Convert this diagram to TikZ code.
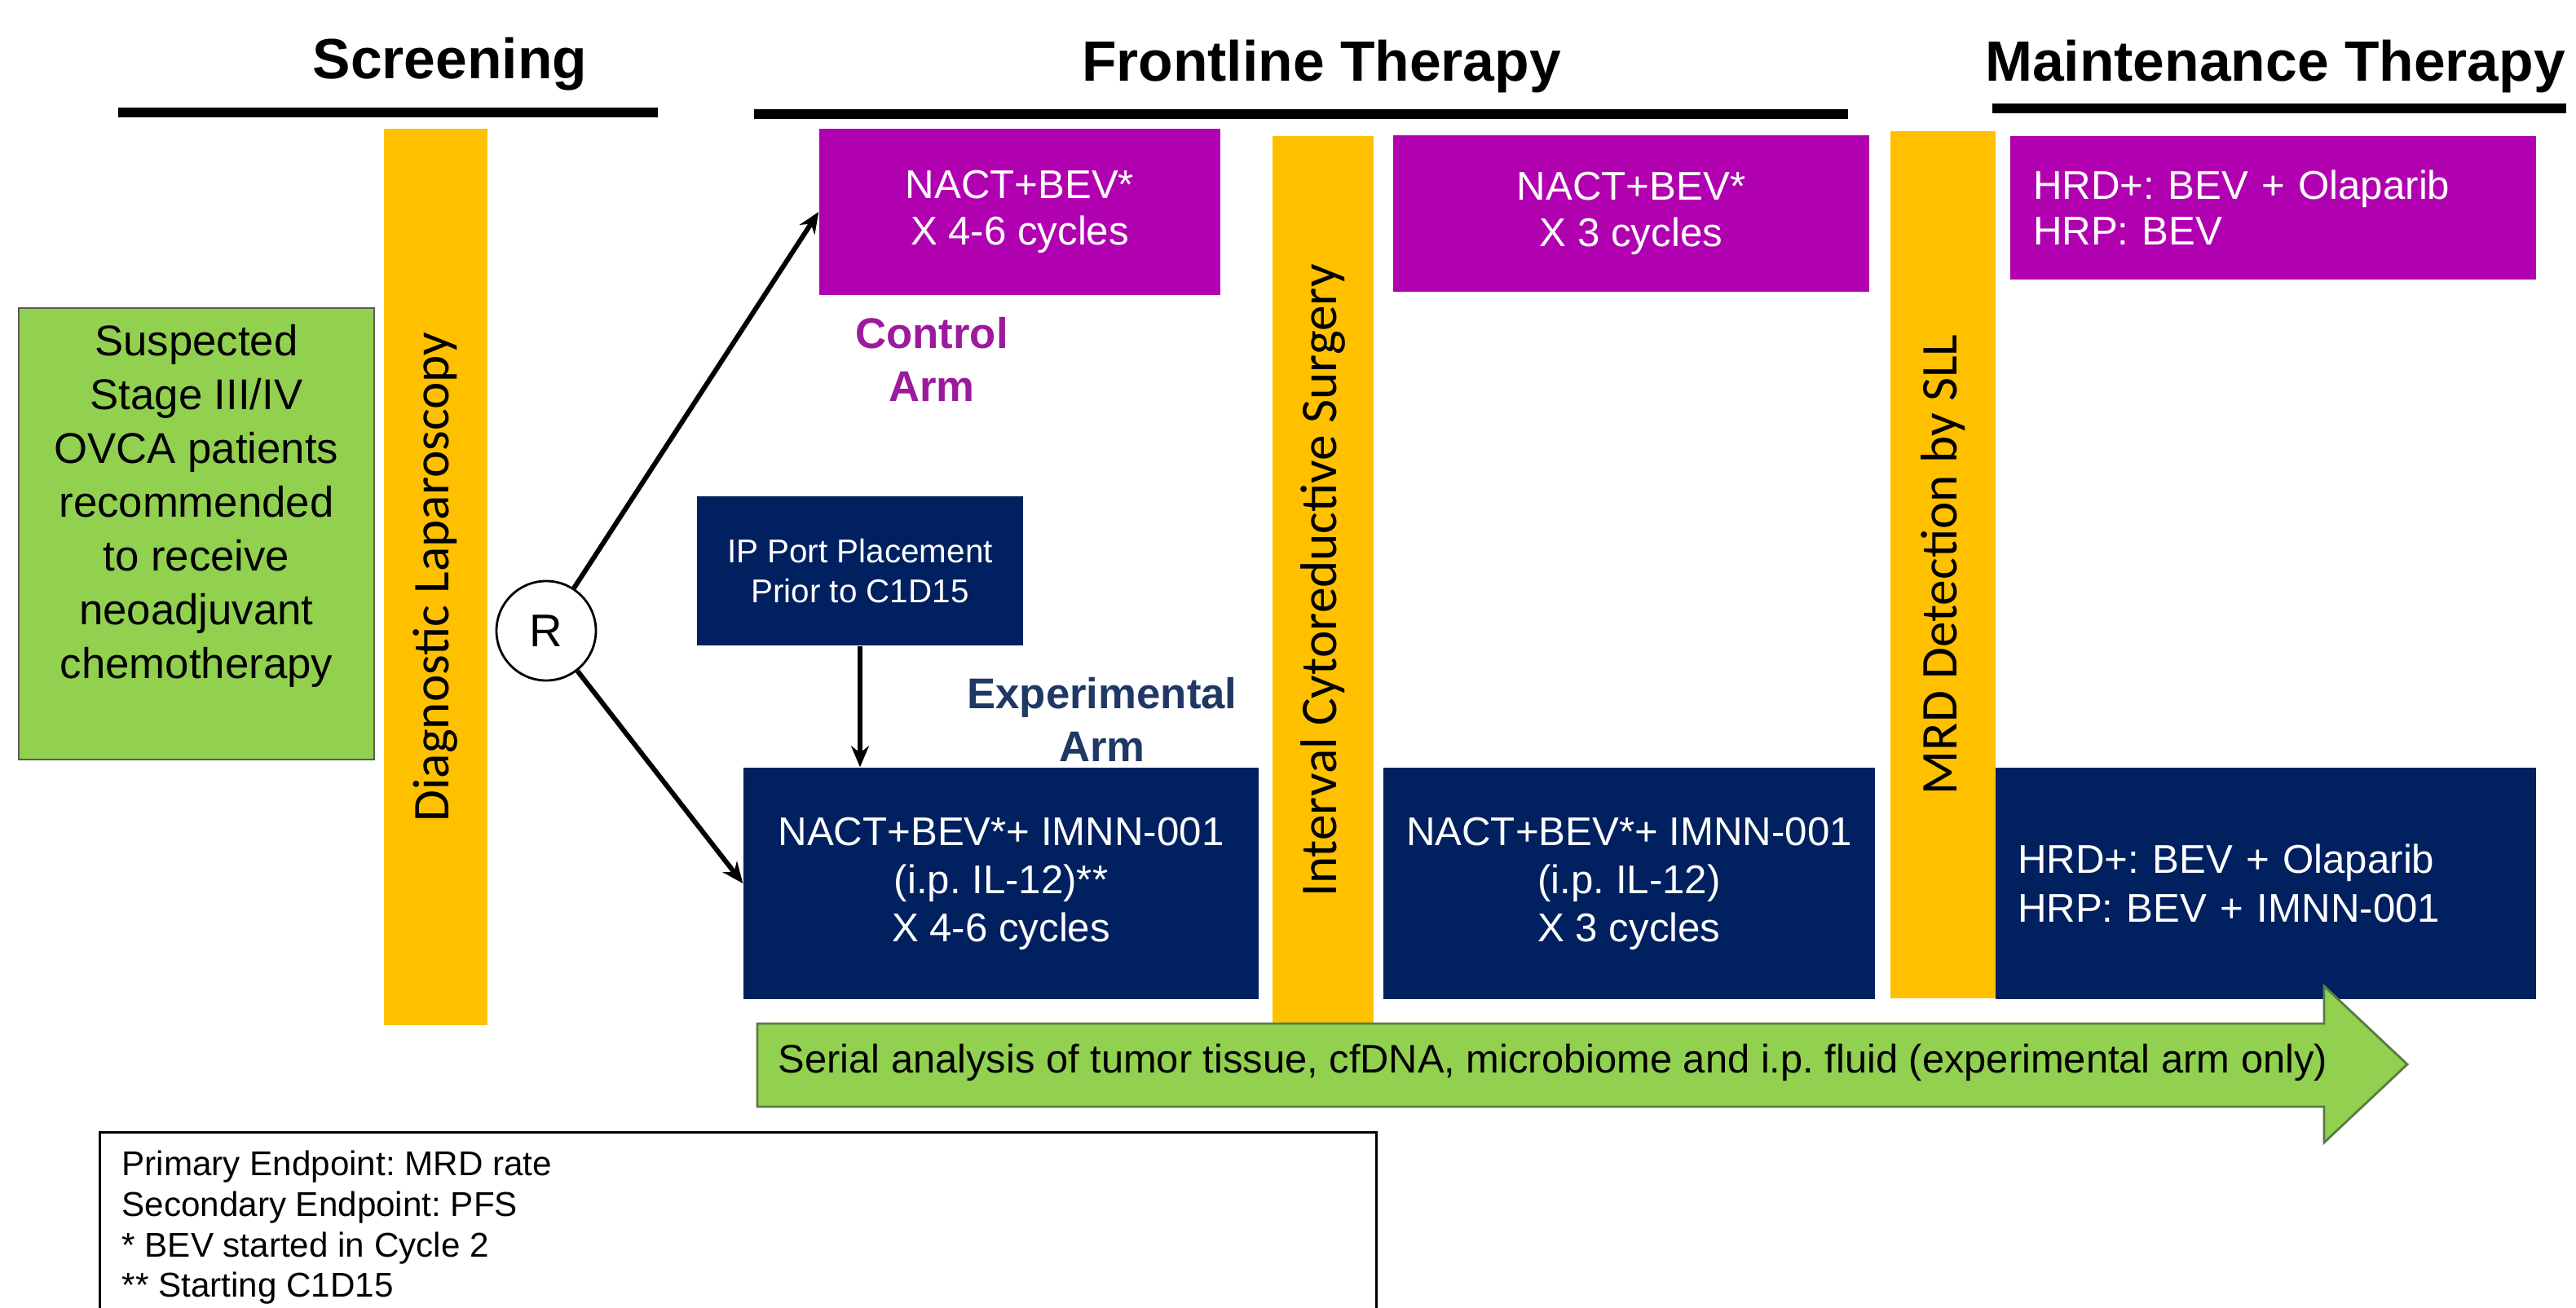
\documentclass[tikz,border=0pt]{standalone}
\usepackage{fontspec}
\setmainfont{Liberation Sans}
\newfontfamily\barfont{Carlito}
\usetikzlibrary{positioning}
\usetikzlibrary{arrows.meta}
\frenchspacing

\definecolor{barorange}{HTML}{FFC000}
\definecolor{ctlpurple}{HTML}{B000B0}
\definecolor{ctltext}{HTML}{9C1A9C}
\definecolor{expnavy}{HTML}{002060}
\definecolor{exptext}{HTML}{1F3864}
\definecolor{leafgreen}{HTML}{92D050}
\definecolor{edgegray}{HTML}{5A5A5A}
\definecolor{arrowedge}{HTML}{5A7A45}

\begin{document}
\begin{tikzpicture}[x=1cm, y=-1cm,
  phase/.style={anchor=base, font=\bfseries\fontsize{19.8}{24}\selectfont},
  phaseline/.style={line width=0.12cm},
  bar/.style={rectangle, fill=barorange, rotate=90, inner sep=0pt, minimum height=1.27cm, font=\barfont\fontsize{18}{22}\selectfont},
  ctlbox/.style={rectangle, fill=ctlpurple, text=white, inner sep=0pt, align=center, font=\fontsize{14}{16}\selectfont},
  expbox/.style={rectangle, fill=expnavy, text=white, inner sep=0pt, align=center, font=\fontsize{14}{16.8}\selectfont},
  armlabel/.style={align=center, font=\bfseries\fontsize{15}{18.4}\selectfont},
  arr/.style={line width=1.7pt, -{Stealth[length=2.6mm, width=2.2mm]}}
]
\useasboundingbox (0,0) rectangle (31.6,16.05);
\clip (0,0) rectangle (31.6,16.05);

% Phases
\node[phase] (screen) at (5.52,0.97) {Screening};
\node[phase] (front) at (16.21,1.00) {Frontline Therapy};
\node[phase] (maint) at (27.91,1.00) {Maintenance Therapy};
\draw[phaseline] (1.45,1.38) -- (8.07,1.38);
\draw[phaseline] (9.25,1.40) -- (22.67,1.40);
\draw[phaseline] (24.44,1.33) -- (31.48,1.33);

% Patients
\node[draw=edgegray, line width=0.8pt, fill=leafgreen, minimum width=4.36cm, minimum height=5.54cm] (patients) at (2.41,6.55) {};
\node[align=center, font=\fontsize{15}{18.8}\selectfont] (patienttext) at ([yshift=3.4mm]patients.center) {Suspected\\Stage III/IV\\OVCA patients\\recommended\\to receive\\neoadjuvant\\chemotherapy};

% Bars
\node[bar, minimum width=11.00cm] (diag) at (5.345,7.08) {Diagnostic Laparoscopy};
\node[bar, minimum width=10.91cm, minimum height=1.24cm] (ics) at (16.23,7.125) {Interval Cytoreductive Surgery};
\node[bar, minimum width=10.64cm, minimum height=1.29cm] (mrd) at (23.835,6.93) {MRD Detection by SLL};

\node[circle, draw, line width=0.8pt, minimum size=1.22cm, inner sep=0pt, font=\fontsize{16}{19}\selectfont] (rand) at (6.70,7.74) {R};

% Control arm
\node[ctlbox, minimum width=4.92cm, minimum height=2.04cm] (ctl1) at (12.51,2.60) {NACT+BEV*\\X 4-6 cycles};
\node[ctlbox, minimum width=5.84cm, minimum height=1.92cm] (ctl2) at (20.01,2.62) {NACT+BEV*\\X 3 cycles};
\node[ctlbox, align=left, text width=5.89cm, inner xsep=0.28cm, minimum height=1.76cm] (ctl3) at (27.885,2.55) {HRD+: BEV + Olaparib\\HRP: BEV};
\node[armlabel, text=ctltext] (ctlarm) at (11.43,4.41) {Control\\Arm};

% Experimental arm
\node[expbox, font=\fontsize{11.5}{14}\selectfont, minimum width=4.0cm, minimum height=1.83cm] (ipport) at (10.55,7.005) {IP Port Placement\\Prior to C1D15};
\node[armlabel, text=exptext] (exparm) at (13.52,8.83) {Experimental\\Arm};
\node[expbox, minimum width=6.32cm, minimum height=2.84cm] (exp1) at (12.28,10.84) {NACT+BEV*+ IMNN-001\\(i.p. IL-12)**\\X 4-6 cycles};
\node[expbox, minimum width=6.03cm, minimum height=2.84cm] (exp2) at (19.985,10.84) {NACT+BEV*+ IMNN-001\\(i.p. IL-12)\\X 3 cycles};
\node[expbox, align=left, text width=6.09cm, inner xsep=0.27cm, minimum height=2.84cm, font=\fontsize{14}{17}\selectfont] (exp3) at (27.795,10.84) {HRD+: BEV + Olaparib\\HRP: BEV + IMNN-001};

% Randomisation
\draw[arr] (rand) -- (ctl1.west);
\draw[arr] (rand) -- (exp1.west);
\draw[arr] (ipport) -- (ipport |- exp1.north);

% Serial analysis
\draw[draw=arrowedge, fill=leafgreen, line width=0.8pt] (9.29,12.56) -- (28.51,12.56) -- (28.51,12.10) -- (29.53,13.06) -- (28.51,14.02) -- (28.51,13.58) -- (9.29,13.58) -- cycle;
\node[anchor=base west, inner sep=0pt, font=\fontsize{13.9}{17}\selectfont] (serial) at (9.54,13.16) {Serial analysis of tumor tissue, cfDNA, microbiome and i.p. fluid (experimental arm only)};

% Endpoints
\node[draw, line width=0.8pt, anchor=north west, minimum width=15.66cm, minimum height=2.6cm] (notes) at (1.21,13.88) {};
\node[anchor=north west, inner sep=0pt, align=left, font=\fontsize{12}{14.2}\selectfont] (notestext) at (1.49,14.11) {Primary Endpoint: MRD rate\\Secondary Endpoint: PFS\\* BEV started in Cycle 2\\** Starting C1D15};

\end{tikzpicture}
\end{document}
